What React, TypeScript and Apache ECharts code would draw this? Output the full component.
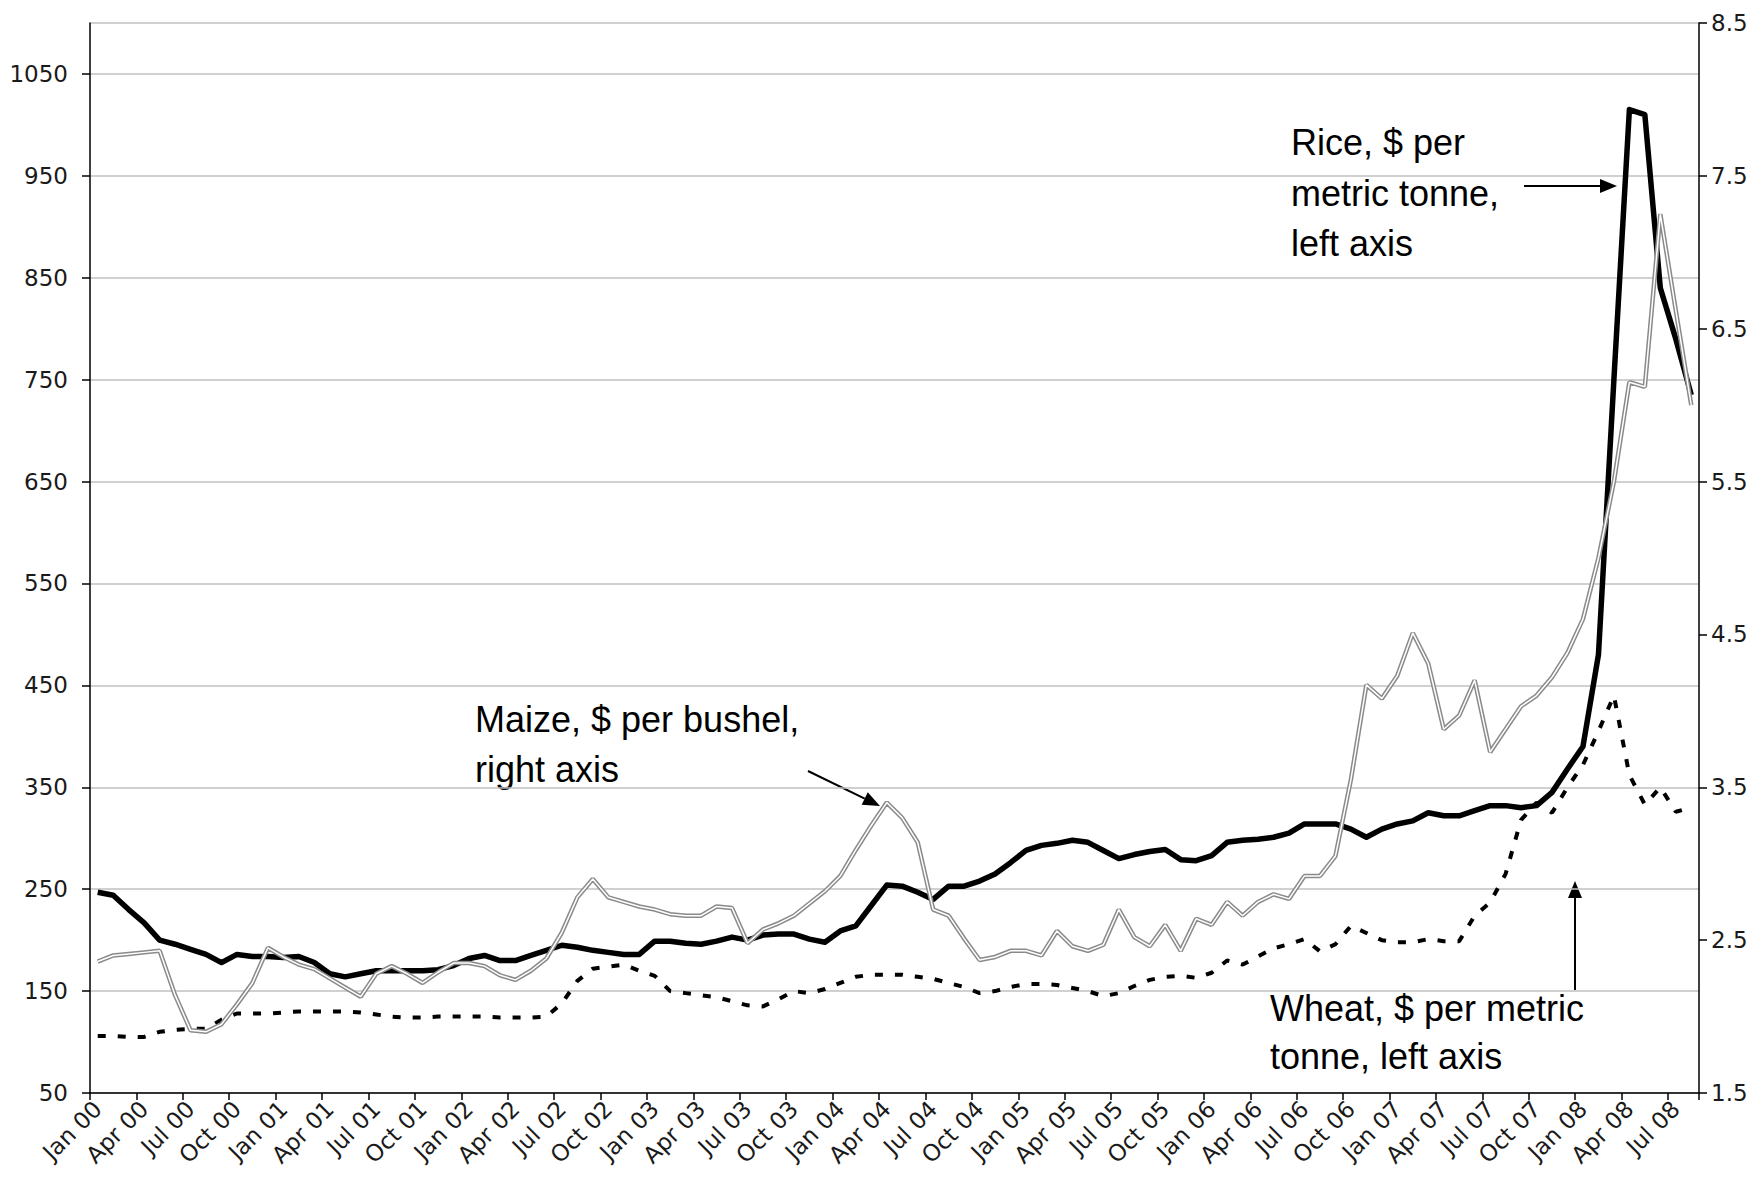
import React, { useEffect, useRef } from "react";
import * as echarts from "echarts";

const MONTHS = ["Jan", "Feb", "Mar", "Apr", "May", "Jun", "Jul", "Aug", "Sep", "Oct", "Nov", "Dec"];
const YEARS = ["00", "01", "02", "03", "04", "05", "06", "07", "08"];
const LAST_MONTH_2008 = 8; // Jan..Aug 08

// Rice, $ per metric tonne (left axis), Jan 00 .. Aug 08
const rice = [
  247, 244, 230, 217, 200, 196, 191, 186, 178, 186, 184, 184,
  183, 184, 178, 167, 164, 167, 170, 170, 170, 170, 171, 175,
  182, 185, 180, 180, 185, 190, 195, 193, 190, 188, 186, 186,
  199, 199, 197, 196, 199, 203, 200, 205, 206, 206, 201, 198,
  209, 214, 234, 254, 253, 247, 240, 253, 253, 258, 265, 276,
  288, 293, 295, 298, 296, 288, 280, 284, 287, 289, 279, 278,
  283, 296, 298, 299, 301, 305, 314, 314, 314, 309, 301, 309,
  314, 317, 325, 322, 322, 327, 332, 332, 330, 332, 345, 368,
  390, 480, 750, 1015, 1010, 840, 790, 735,
];

// Maize, $ per bushel (right axis)
const maize = [
  2.36, 2.40, 2.41, 2.42, 2.43, 2.14, 1.91, 1.90, 1.95, 2.08, 2.22, 2.45,
  2.39, 2.34, 2.31, 2.25, 2.19, 2.13, 2.28, 2.33, 2.28, 2.22, 2.29, 2.35,
  2.35, 2.33, 2.27, 2.24, 2.30, 2.38, 2.55, 2.78, 2.90, 2.78, 2.75, 2.72,
  2.70, 2.67, 2.66, 2.66, 2.72, 2.71, 2.48, 2.57, 2.61, 2.66, 2.74, 2.82,
  2.92, 3.09, 3.25, 3.40, 3.30, 3.14, 2.70, 2.66, 2.51, 2.37, 2.39, 2.43,
  2.43, 2.40, 2.56, 2.46, 2.43, 2.47, 2.70, 2.52, 2.46, 2.60, 2.43, 2.64,
  2.60, 2.75, 2.66, 2.75, 2.80, 2.77, 2.92, 2.92, 3.05, 3.55, 4.17, 4.08,
  4.23, 4.51, 4.31, 3.88, 3.97, 4.20, 3.73, 3.88, 4.03, 4.10, 4.22, 4.38,
  4.60, 5.00, 5.50, 6.15, 6.12, 7.25, 6.62, 6.00,
];

// Wheat, $ per metric tonne (left axis)
const wheat = [
  106, 106, 105, 105, 110, 112, 113, 113, 122, 128, 128, 128,
  129, 130, 130, 130, 130, 129, 127, 125, 124, 124, 125, 125,
  125, 125, 124, 124, 124, 125, 138, 160, 172, 174, 176, 170,
  165, 150, 148, 146, 144, 140, 136, 135, 142, 150, 148, 152,
  158, 164, 166, 166, 166, 164, 162, 158, 154, 148, 150, 154,
  157, 157, 156, 153, 150, 145, 148, 155, 161, 164, 165, 163,
  168, 180, 176, 184, 192, 196, 201, 189, 196, 214, 207, 200,
  198, 198, 201, 199, 199, 224, 237, 265, 318, 335, 325, 350,
  372, 405, 440, 362, 333, 350, 326, 330,
];

const LEFT_TICKS = { min: 50, max: 1100, interval: 100 };
const RIGHT_TICKS = { min: 1.5, max: 8.5, interval: 1 };

const categories: string[] = [];
YEARS.forEach((y, yi) => {
  MONTHS.forEach((m, mi) => {
    if (yi === YEARS.length - 1 && mi >= LAST_MONTH_2008) return;
    categories.push(`${m} ${y}`);
  });
});

const FONT = '"Liberation Sans", Arial, sans-serif';
const TICK_FONT = '"DejaVu Sans", Verdana, sans-serif';

function arrow(x1: number, y1: number, x2: number, y2: number) {
  const dx = x2 - x1;
  const dy = y2 - y1;
  const len = Math.sqrt(dx * dx + dy * dy);
  const ux = dx / len;
  const uy = dy / len;
  const hl = 17;
  const hw = 7;
  const bx = x2 - ux * hl;
  const by = y2 - uy * hl;
  return [
    {
      type: "line",
      shape: { x1, y1, x2: bx, y2: by },
      style: { stroke: "#000", lineWidth: 2 },
      silent: true,
    },
    {
      type: "polygon",
      shape: {
        points: [
          [x2, y2],
          [bx - uy * hw, by + ux * hw],
          [bx + uy * hw, by - ux * hw],
        ],
      },
      style: { fill: "#000" },
      silent: true,
    },
  ];
}

function label(lines: string[], x: number, baselines: number[]) {
  return lines.map((t, i) => ({
    type: "text",
    x,
    y: baselines[i] - 31,
    silent: true,
    style: {
      text: t,
      font: `36px ${FONT}`,
      fill: "#000",
      verticalAlign: "top",
      align: "left",
    },
  }));
}

export default function App() {
  const ref = useRef<HTMLDivElement>(null);
  useEffect(() => {
    if (!ref.current) return;
    const chart = echarts.init(ref.current, undefined, { renderer: "svg" });
    const axisLabelStyle = { color: "#1a1a1a", fontSize: 23, fontFamily: TICK_FONT };
    chart.setOption({
      animation: false,
      backgroundColor: "#fff",
      grid: { left: 90, right: 65, top: 23, bottom: 107, containLabel: false },
      xAxis: {
        type: "category",
        data: categories,
        boundaryGap: true,
        axisLine: { show: true, lineStyle: { color: "#000", width: 1.5 } },
        axisTick: { show: true, interval: 2, length: 7, lineStyle: { color: "#000", width: 1.5 } },
        axisLabel: { ...axisLabelStyle, interval: 2, rotate: 45, margin: 12 },
        splitLine: { show: false },
      },
      yAxis: [
        {
          type: "value",
          position: "left",
          min: LEFT_TICKS.min,
          max: LEFT_TICKS.max,
          interval: LEFT_TICKS.interval,
          axisLine: { show: true, lineStyle: { color: "#000", width: 1.5 } },
          axisTick: { show: true, length: 8, lineStyle: { color: "#000", width: 1.5 } },
          axisLabel: {
            ...axisLabelStyle,
            margin: 22,
            showMaxLabel: false,
            formatter: (v: number) => String(v),
          },
          splitLine: { show: true, lineStyle: { color: "#c0c0c0", width: 1.5 } },
        },
        {
          type: "value",
          position: "right",
          min: RIGHT_TICKS.min,
          max: RIGHT_TICKS.max,
          interval: RIGHT_TICKS.interval,
          axisLine: { show: true, lineStyle: { color: "#000", width: 1.5 } },
          axisTick: { show: true, length: 8, lineStyle: { color: "#000", width: 1.5 } },
          axisLabel: { ...axisLabelStyle, margin: 12, formatter: (v: number) => v.toFixed(1) },
          splitLine: { show: false },
        },
      ],
      series: [
        {
          name: "Rice, $ per metric tonne, left axis",
          type: "line",
          yAxisIndex: 0,
          data: rice,
          showSymbol: false,
          lineStyle: { color: "#000", width: 5.5, join: "round" },
          z: 3,
        },
        {
          name: "Wheat, $ per metric tonne, left axis",
          type: "line",
          yAxisIndex: 0,
          data: wheat,
          showSymbol: false,
          lineStyle: { color: "#000", width: 4, type: [8, 12], cap: "butt" },
          z: 4,
        },
        {
          name: "Maize, $ per bushel, right axis",
          type: "line",
          yAxisIndex: 1,
          data: maize,
          showSymbol: false,
          lineStyle: { color: "#8a8a8a", width: 4.5 },
          z: 5,
        },
        {
          name: "Maize inner",
          type: "line",
          yAxisIndex: 1,
          data: maize,
          showSymbol: false,
          silent: true,
          lineStyle: { color: "#ffffff", width: 1.5 },
          z: 6,
        },
      ],
      graphic: [
        ...label(["Rice, $ per", "metric tonne,", "left axis"], 1291, [155, 206, 256]),
        ...label(["Maize, $ per bushel,", "right axis"], 475, [732, 782]),
        ...label(["Wheat, $ per metric", "tonne, left axis"], 1270, [1021, 1069]),
        ...arrow(1524, 186, 1617, 186),
        ...arrow(808, 771, 880, 806),
        ...arrow(1575, 990, 1575, 881),
      ],
    });
    return () => chart.dispose();
  }, []);
  return (
    <div
      ref={ref}
      style={{ position: "absolute", left: 0, top: 0, width: 1764, height: 1200 }}
    />
  );
}
